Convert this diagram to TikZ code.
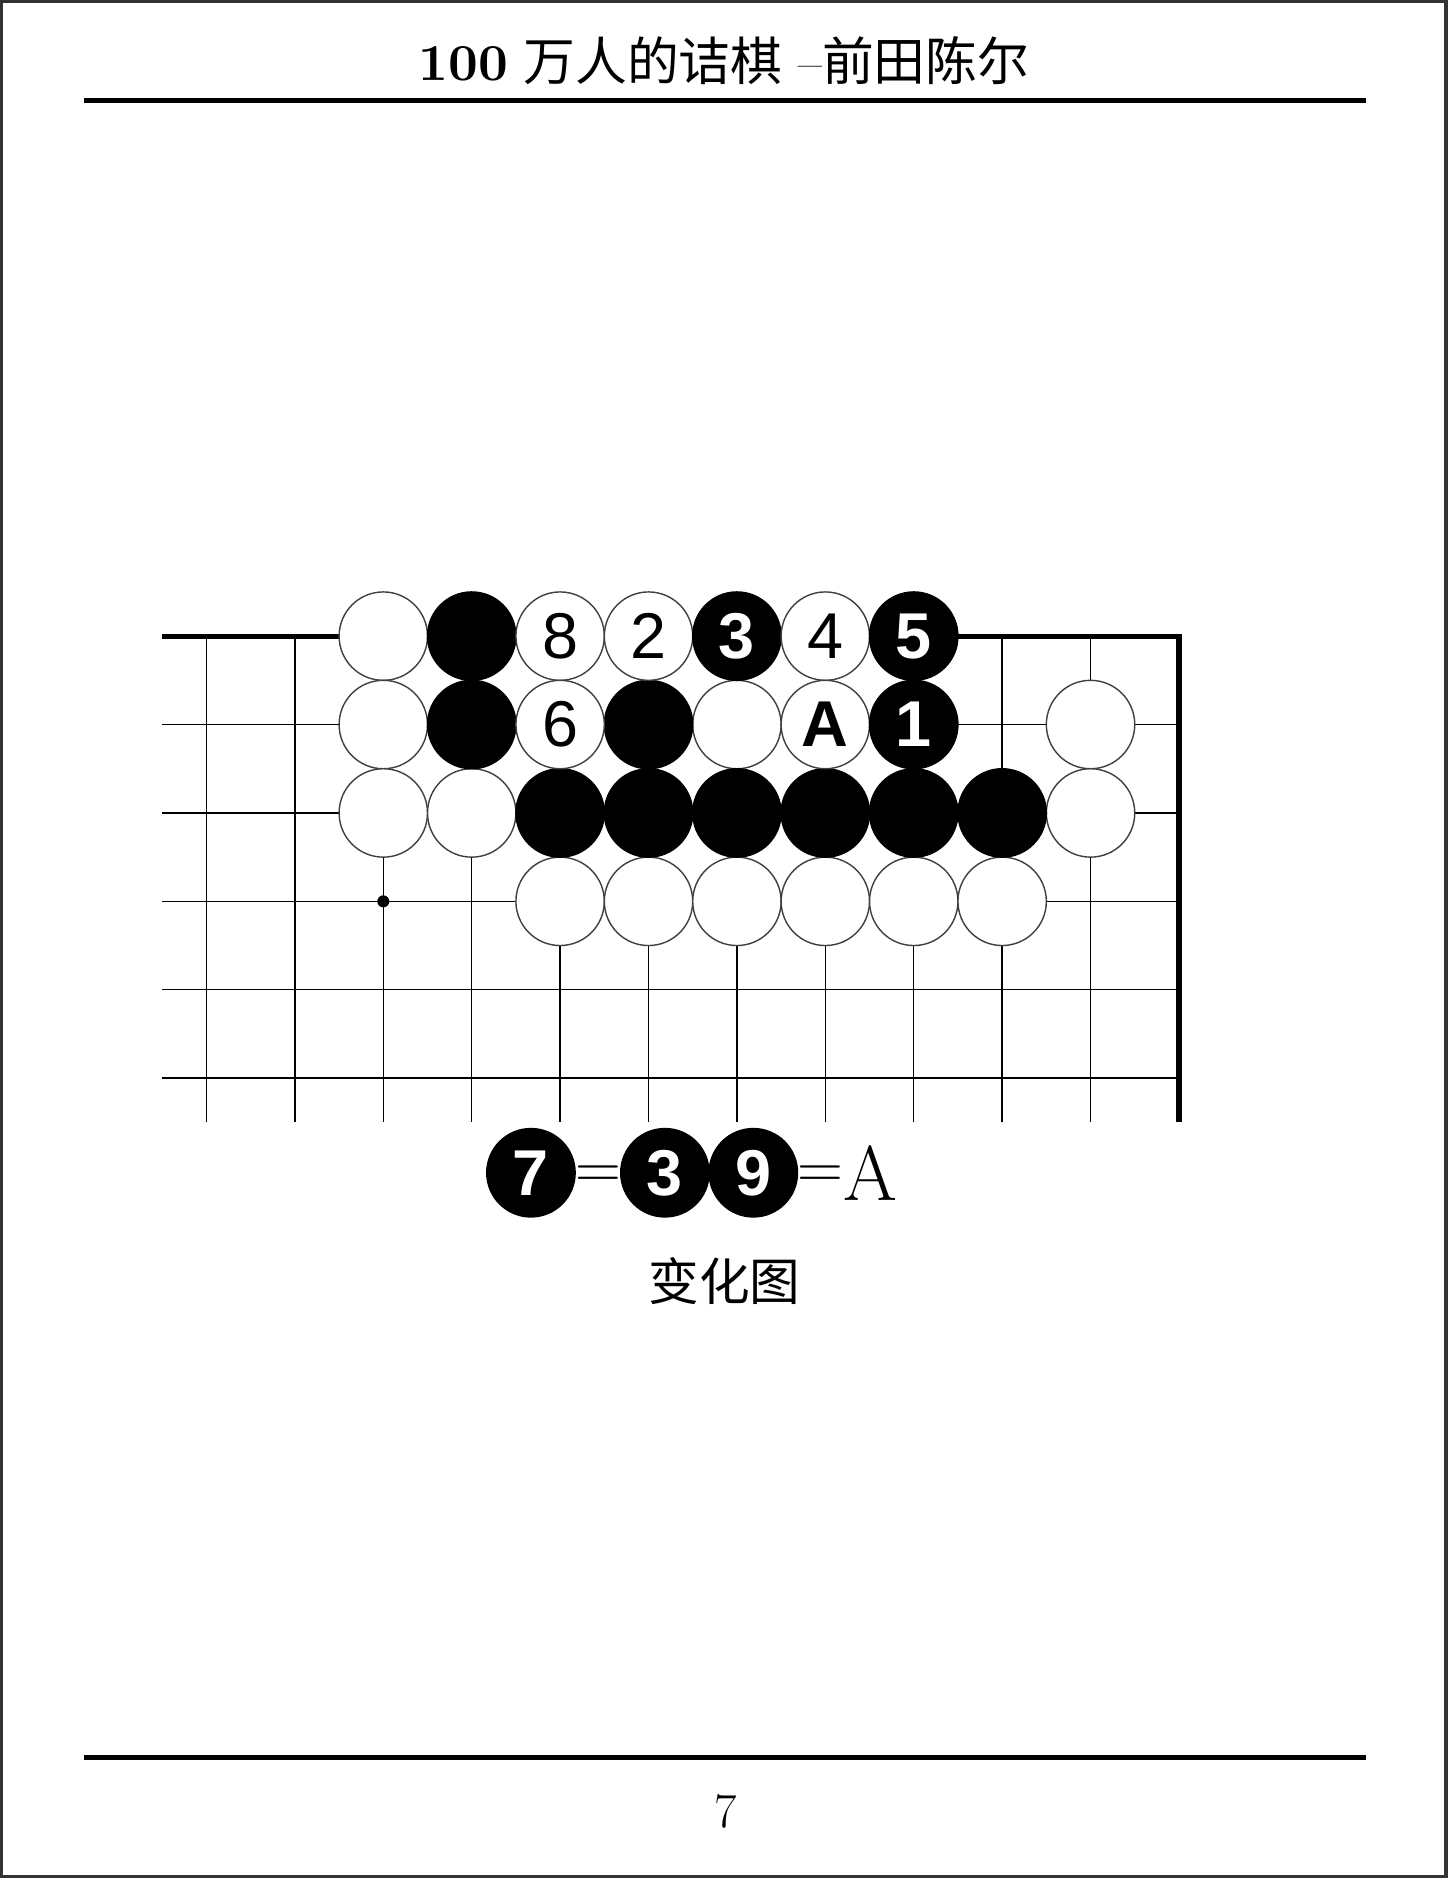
\documentclass[tikz,border=0pt]{standalone}
\usepackage{fontspec}
\newfontfamily\cjk{Noto Sans CJK SC}
\newfontfamily\stonefont{Liberation Sans}
\newfontfamily\boldroman{lmroman10-bold.otf}
\usetikzlibrary{positioning}
\tikzset {
    white stone/.style={
        circle, % Set the shape as a circle
        draw=black!75,
        line width=0.6pt,
        fill=white,
        minimum size=1.319cm,
        inner sep=0pt,
        outer sep=0pt,
        font=\stonefont\fontsize{27.5}{27.5}\selectfont,
    },
    black stone/.style={
        circle, % Set the shape as a circle
        draw=black,
        line width=0.6pt,
        fill=black,
        text=white,
        minimum size=1.319cm,
        inner sep=0pt,
        outer sep=0pt,
        font=\stonefont\bfseries\fontsize{27.5}{27.5}\selectfont,
    },
    board line/.style={
        line width=0.6pt,
    },
    board edge/.style={
        line width=2.2pt,
        line join=miter,
    },
    hoshi/.style={
        circle,
        fill=black,
        minimum size=0.18cm,
        inner sep=0pt,
    },
    equal sign/.style={
        inner sep=0pt,
        outer sep=0pt,
        yshift=-1.8pt,
        font=\fontsize{27}{27}\selectfont,
    },
    page rule/.style={
        line width=2.2pt,
    },
    page frame/.style={
        draw=black!80,
        line width=2.4pt,
    },
}

\begin{document}
\begin{tikzpicture}[font=\huge]
        \useasboundingbox (0,0) rectangle (21.59,-28.02);
        \draw[page frame] (0,0) rectangle (21.59,-28.02);

        % header and footer
        \node[anchor=base, font=\fontsize{22}{22}\selectfont] (title) at (10.8,-1.195)
            {{\boldroman 100} {\cjk 万人的诘棋} --{\cjk 前田陈尔}};
        \draw[page rule] (1.25,-1.5) -- (20.375,-1.5);
        \draw[page rule] (1.25,-26.22) -- (20.375,-26.22);
        \node[anchor=base] (pageno) at (10.83,-27.27) {7};

        \begin{scope}[shift={(3.081,-9.491)}, x=1.319cm, y=-1.319cm]
        % grid
        \foreach \r in {1,...,5}
            \draw[board line] (-0.5,\r) -- (11,\r);
        \foreach \c in {0,...,10}
            \draw[board line] (\c,0) -- (\c,5.5);
        \draw[board edge] (-0.5,0) -- (11,0) -- (11,5.5);
        \node[hoshi] (star) at (2,3) {};

        % stones
        \foreach \c/\r in {2/0, 2/1, 6/1, 10/1, 2/2, 3/2, 10/2, 4/3, 5/3, 6/3, 7/3, 8/3, 9/3}
            \node[white stone] (w-\c-\r) at (\c,\r) {};
        \foreach \c/\r in {3/0, 3/1, 5/1, 4/2, 5/2, 6/2, 7/2, 8/2, 9/2}
            \node[black stone] (b-\c-\r) at (\c,\r) {};
        \node[white stone] (move8) at (4,0) {8};
        \node[white stone] (move2) at (5,0) {2};
        \node[black stone] (move3) at (6,0) {3};
        \node[white stone] (move4) at (7,0) {4};
        \node[black stone] (move5) at (8,0) {5};
        \node[white stone] (move6) at (4,1) {6};
        \node[white stone, font=\stonefont\bfseries\fontsize{27.5}{27.5}\selectfont] (pointA) at (7,1) {A};
        \node[black stone] (move1) at (8,1) {1};

        % ko note
        \node[black stone] (note7) at (3.67,6.07) {7};
        \node[equal sign, right=0pt of note7] (eq1) {=};
        \node[black stone, right=0.68cm of note7] (note3) {3};
        \node[black stone, right=0pt of note3] (note9) {9};
        \node[equal sign, right=0pt of note9] (eq2) {=};
        \node[inner sep=0pt, font=\fontsize{33}{33}\selectfont, right=0.68cm of note9] (noteA) {A};
        \end{scope}

        \node (caption) at (10.81,-19.107) {\cjk\fontsize{21.5}{21.5}\selectfont 变化图};
\end{tikzpicture}
\end{document}
